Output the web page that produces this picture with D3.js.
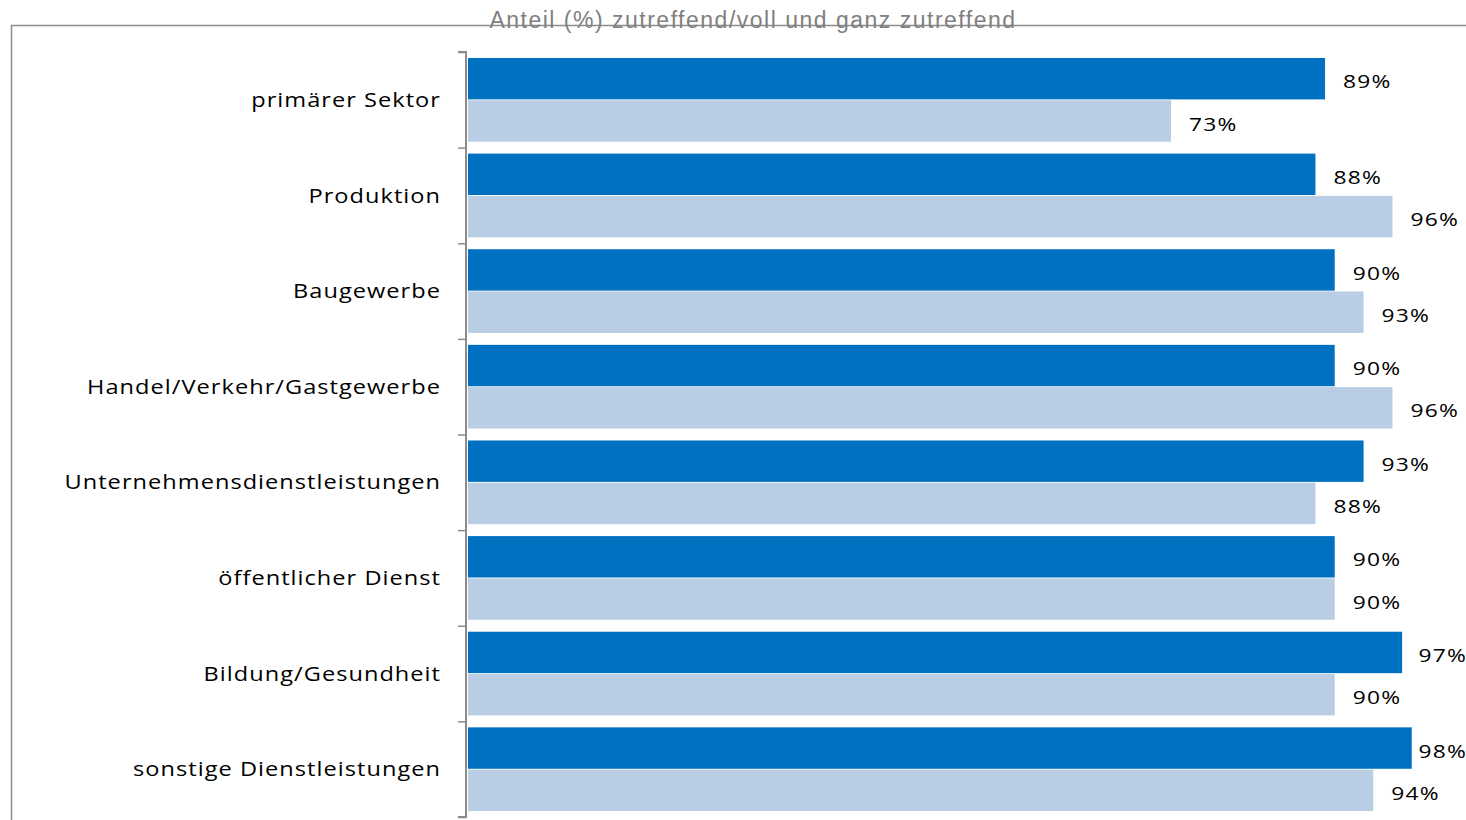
<!DOCTYPE html>
<html>
<head>
<meta charset="utf-8">
<script src="https://cdn.jsdelivr.net/npm/d3@7"></script>
<style>
  html, body { margin: 0; padding: 0; background: #fff; }
  svg { display: block; }
</style>
</head>
<body>
<svg id="chart" width="1466" height="820"></svg>
<script>
// Sectors and the two share series (percent)
const categories = [
  "primärer Sektor",
  "Produktion",
  "Baugewerbe",
  "Handel/Verkehr/Gastgewerbe",
  "Unternehmensdienstleistungen",
  "öffentlicher Dienst",
  "Bildung/Gesundheit",
  "sonstige Dienstleistungen"
];
const seriesA = [89, 88, 90, 90, 93, 90, 97, 98];
const seriesB = [73, 96, 93, 96, 88, 90, 90, 94];
const seriesKeys = ["a", "b"];
const seriesColors = ["#0070C0", "#B9CDE5"];
const titleText = "Anteil (%) zutreffend/voll und ganz zutreffend";

const rows = categories.map((c, i) => ({ cat: c, a: seriesA[i], b: seriesB[i] }));

const W = 1466;
const svg = d3.select("#chart");

// outer frame
svg.append("rect")
  .attr("x", 11.5).attr("y", 25.5)
  .attr("width", 1500).attr("height", 900)
  .attr("fill", "none").attr("stroke", "#8c8c8c").attr("stroke-width", 1.5);

const axisX = 466;
const plotTop = 52, plotBottom = 817;

const x = d3.scaleLinear().domain([0, 100]).range([468, 1431]);
const y = d3.scaleBand().domain(categories).range([plotTop, plotBottom]).paddingInner(0.125).paddingOuter(0.0625);
const ySub = d3.scaleBand().domain(seriesKeys).range([0, y.bandwidth()]).paddingInner(0.02);

// bars
const groups = svg.append("g").selectAll("g")
  .data(rows).join("g")
  .attr("transform", d => `translate(0,${y(d.cat)})`);

groups.selectAll("rect")
  .data(d => seriesKeys.map((k, j) => ({ key: k, value: d[k], j })))
  .join("rect")
  .attr("x", x(0))
  .attr("y", d => ySub(d.key))
  .attr("width", d => x(d.value) - x(0))
  .attr("height", ySub.bandwidth())
  .attr("fill", d => seriesColors[d.j]);

// value labels (slightly widened type), kept inside the drawing area
const valStretch = 1.2;
groups.selectAll("g.val")
  .data(d => seriesKeys.map((k, j) => ({ key: k, value: d[k], j })))
  .join("g")
  .attr("class", "val")
  .each(function (d) {
    const g = d3.select(this);
    const t = g.append("text")
      .attr("x", 0).attr("y", 0)
      .attr("dy", "0.35em")
      .attr("font-family", "'Open Sans', sans-serif")
      .attr("font-size", 19)
      .attr("letter-spacing", 1)
      .attr("fill", "#000")
      .text(d.value + "%");
    const w = t.node().getComputedTextLength() * valStretch;
    const tx = Math.min(x(d.value) + 18, W - w + 1);
    g.attr("transform", `translate(${tx},${ySub(d.key) + ySub.bandwidth() / 2 + 3}) scale(${valStretch},1)`);
  });

// category axis
const yAxis = d3.axisLeft(
  d3.scalePoint().domain(d3.range(categories.length + 1)).range([plotTop, plotBottom])
).tickSize(8).tickFormat("");
const axisG = svg.append("g").attr("transform", `translate(${axisX},0)`).call(yAxis);
axisG.select(".domain").attr("stroke", "#8c8c8c").attr("stroke-width", 2).attr("d", `M-8,${plotTop}H0V${plotBottom}H-8`);
axisG.selectAll(".tick line").attr("stroke", "#8c8c8c").attr("stroke-width", 1.5);

// category labels (slightly widened type)
const catStretch = 1.15;
svg.append("g").selectAll("g")
  .data(categories).join("g")
  .attr("transform", d => `translate(441,${y(d) + y.bandwidth() / 2}) scale(${catStretch},1)`)
  .append("text")
  .attr("x", 0)
  .attr("dy", "0.35em")
  .attr("text-anchor", "end")
  .attr("font-family", "'Open Sans', sans-serif")
  .attr("font-size", 20.5)
  .attr("letter-spacing", 0.9)
  .attr("fill", "#000")
  .text(d => d);

// heading
svg.append("text")
  .attr("x", 753).attr("y", 27.5)
  .attr("text-anchor", "middle")
  .attr("font-family", "'Liberation Sans', Arial, sans-serif")
  .attr("font-size", 23)
  .attr("letter-spacing", 1.5)
  .attr("fill", "#808080")
  .text(titleText);
</script>
</body>
</html>
